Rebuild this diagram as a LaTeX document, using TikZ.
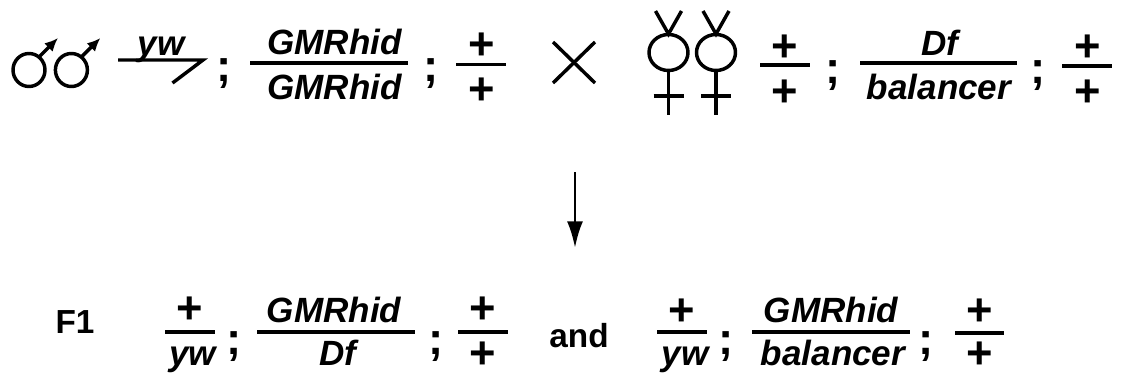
\documentclass[tikz,border=0pt]{standalone}
\usepackage{fontspec}
\setmainfont{Liberation Sans}
\usetikzlibrary{arrows.meta}

\begin{document}
\begin{tikzpicture}[x=0.75pt, y=-0.75pt, >={Latex[length=20pt,width=12pt]},
	geno/.style={font=\fontsize{26.3}{26.3}\selectfont\bfseries\itshape, anchor=base, inner sep=0pt},
	plus/.style={font=\fontsize{34}{34}\selectfont\bfseries, anchor=center, inner sep=0pt},
	semi/.style={font=\fontsize{34}{34}\selectfont\bfseries, anchor=base, inner sep=0pt},
	word/.style={font=\fontsize{25}{25}\selectfont\bfseries, anchor=base, inner sep=0pt},
	bar/.style={line width=2.6pt},
	sign/.style={line width=2.6pt}]
	\useasboundingbox (0,0) rectangle (1122,375);
	% male symbols
	\foreach \i/\cx in {1/29,2/71.4} {
		\draw[sign] (\cx,70) ellipse (16 and 16.5);
		\coordinate (mtip\i) at (\cx+29,38);
		\coordinate (mfoot\i) at (\cx+10,57);
		\draw[sign,-{Latex[length=10pt,width=9pt]}] (mfoot\i) -- (mtip\i);
	}
	% female symbols
	\foreach \i/\cx in {1/668.5,2/716} {
		\draw[sign] (\cx,52.5) ellipse (19.5 and 18);
		\coordinate (ftop\i) at (\cx,34);
		\coordinate (fleft\i) at (\cx-13,11);
		\coordinate (fright\i) at (\cx+13,11);
		\coordinate (fstem\i) at (\cx,71);
		\coordinate (fend\i) at (\cx,115);
		\coordinate (fa\i) at (\cx-15,96);
		\coordinate (fb\i) at (\cx+15,96);
		\draw[sign] (fleft\i) -- (ftop\i) -- (fright\i);
		\draw[sign] (fstem\i) -- (fend\i);
		\draw[sign] (fa\i) -- (fb\i);
	}
	% half chromosome
	\coordinate (ha) at (118,60);
	\coordinate (hb) at (203,60);
	\coordinate (hc) at (172.5,83);
	\draw[bar, line join=miter] (ha) -- (hb) -- (hc);
	\node[geno] (yw0) at (161,55) {yw};
	% cross
	\coordinate (xa) at (553,42);
	\coordinate (xb) at (595,83);
	\coordinate (xc) at (595,42);
	\coordinate (xd) at (553,83);
	\draw[sign] (xa) -- (xb);
	\draw[sign] (xc) -- (xd);
	% fraction bars
	\foreach \nm/\xa/\xb/\yy in {a/250/408/63, b/456/506/64.5, c/760/810/65, d/860/1017/63, e/1062/1112/66, f/165/215/332, g/257/415/332, h/458/508/332, i/657/707/332, j/752/910/332, k/955/1004/333} {
		\coordinate (\nm l) at (\xa,\yy);
		\coordinate (\nm r) at (\xb,\yy);
		\draw[bar] (\nm l) -- (\nm r);
	}
	% labels over and under the bars
	\node[geno] (gmr1) at (334.5,54) {GMRhid};
	\node[geno] (gmr2) at (334.5,99) {GMRhid};
	\node[geno] (df1) at (940,55) {Df};
	\node[geno] (bal1) at (939,99) {balancer};
	\node[geno] (yw1) at (192.5,365) {yw};
	\node[geno] (gmr3) at (334,322) {GMRhid};
	\node[geno] (df2) at (338,365) {Df};
	\node[geno] (yw2) at (685,365) {yw};
	\node[geno] (gmr4) at (831,322) {GMRhid};
	\node[geno] (bal2) at (833,365) {balancer};
	\foreach \i/\cx/\cy in {1/482/46, 2/482/91, 3/785/48, 4/785/93, 5/1087.5/48, 6/1087.5/93, 7/190/310, 9/483/310, 10/483/355, 11/682/312, 13/980/312, 14/980/355} {
		\node[plus] (plus\i) at (\cx,\cy) {+};
	}
	\foreach \i/\cx/\cy in {1/224/81, 2/431/81, 3/833/83, 4/1038/83, 5/234/354, 6/436/354, 7/726/354, 8/926/354} {
		\node[semi] (semi\i) at (\cx,\cy) {;};
	}
	\node[word] (f1) at (75,333) {F1};
	\node[word] (and1) at (579,347) {and};
	% arrow
	\coordinate (arrtop) at (575,172);
	\coordinate (arrend) at (575,248);
	\draw[->, line width=2.1pt] (arrtop) -- (arrend);
\end{tikzpicture}
\end{document}
